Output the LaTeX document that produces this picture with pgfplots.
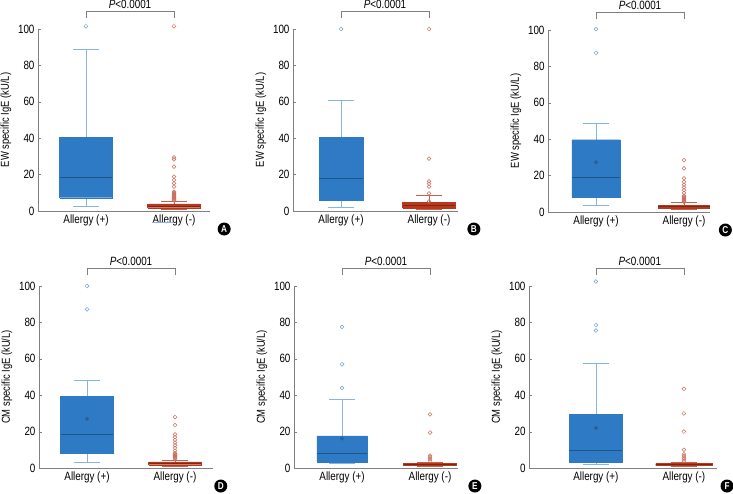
\documentclass[border=0pt]{standalone}
\usepackage{fontspec}
\setmainfont[FakeStretch=0.82]{Liberation Sans}
\usepackage{pgfplots}
\pgfplotsset{compat=1.18}

\definecolor{boxblue}{HTML}{2E7AC4}
\definecolor{medianblue}{HTML}{2A5E96}
\definecolor{whiskblue}{HTML}{86B5E0}
\definecolor{outblue}{HTML}{6A9FD4}
\definecolor{boxred}{HTML}{B7381C}
\definecolor{whiskred}{HTML}{C8614B}
\definecolor{outred}{HTML}{C9705E}
\definecolor{axisgrey}{HTML}{808080}

\pgfplotsset{
  panel/.style={
    x=88pt, y=1.82pt, ymin=0, ymax=100, anchor=south west,
    axis lines*=left,
    axis line style={-, draw=axisgrey, line width=0.6pt},
    xtick={1,2}, xticklabels={Allergy (+), Allergy (-)},
    ytick={0,20,40,60,80,100},
    tick align=inside, major tick length=3pt,
    x tick style={draw=none}, y tick style={draw=axisgrey},
    tick label style={font=\fontsize{12}{14}\selectfont},
    /pgf/number format/assume math mode=true,
    label style={font=\fontsize{11.5}{14}\selectfont},
    clip=false,
  },
  outpos/.style={only marks, mark=o, mark size=1.9pt, mark options={draw=outblue, line width=0.5pt}},
  outneg/.style={only marks, mark=o, mark size=1.9pt, mark options={draw=outred, line width=0.5pt}},
  meandot/.style={only marks, mark=*, mark size=1.8pt, color=medianblue},
}

% box: #1 position, #2 lower whisker, #3 Q1, #4 median, #5 Q3, #6 upper whisker,
% #7 half box width, #8 box colour, #9 whisker colour
\newcommand\drawbox[9]{%
  \pgfmathsetmacro\bxl{#1-#7}\pgfmathsetmacro\bxr{#1+#7}%
  \pgfmathsetmacro\wxl{#1-0.15}\pgfmathsetmacro\wxr{#1+0.15}%
  \addplot[#9, line width=0.6pt] coordinates {(#1,#2) (#1,#3)};
  \addplot[#9, line width=0.6pt] coordinates {(#1,#5) (#1,#6)};
  \addplot[#9, line width=0.6pt] coordinates {(\wxl,#2) (\wxr,#2)};
  \addplot[#9, line width=0.6pt] coordinates {(\wxl,#6) (\wxr,#6)};
  \addplot[fill=#8, draw=#8, line width=0.4pt] coordinates {(\bxl,#3) (\bxr,#3) (\bxr,#5) (\bxl,#5) (\bxl,#3)};
  \addplot[#8!70!black, line width=0.7pt] coordinates {(\bxl,#4) (\bxr,#4)};
}

\newcommand\pbracket{%
  \draw[axisgrey, line width=0.6pt] (axis cs:1,106) -- (axis cs:1,109.5) -- (axis cs:2,109.5) -- (axis cs:2,106);
  \node[anchor=base, font=\fontsize{12}{14}\selectfont] at (axis cs:1.5,111) {\textit{P}<0.0001};}
\newcommand\panellabel[2]{%
  \node[circle, fill=black, inner sep=0pt, minimum size=13pt, text=white,
        font=\bfseries\fontsize{10}{10}\selectfont] at (axis cs:#1,-9.9) {#2};}

\begin{document}
\begin{tikzpicture}
\useasboundingbox (0,0) rectangle (733pt,-494pt);

% A
\begin{axis}[panel, at={(38pt,-211pt)}, xmin=0.4545, xmax=2.41, ylabel={EW specific IgE (kU/L)}]
\drawbox{1}{2.75}{7.3}{18.5}{40.4}{88.6}{0.3}{boxblue}{whiskblue}
\addplot[outpos] coordinates {(1,101.5)};
\drawbox{2}{1.0}{1.8}{2.6}{3.9}{5.3}{0.3}{boxred}{whiskred}
\addplot[outneg] coordinates {(2,5.8)(2,6.2)(2,6.6)(2,7.0)(2,7.4)(2,7.8)(2,8.2)(2,8.6)(2,9.0)
  (2,9.4)(2,9.8)(2,10.2)(2,10.6)(2,13.4)(2,15.2)(2,17.0)(2,18.9)(2,24.4)(2,28.4)(2,29.5)(2,101.5)};
\addplot[whiskblue, line width=0.6pt] coordinates {(1.76,-6.4) (2.0,-6.4)};
\pbracket
\panellabel{2.57}{A}
\end{axis}

% B
\begin{axis}[panel, at={(293pt,-211pt)}, xmin=0.4545, xmax=2.33, ylabel={EW specific IgE (kU/L)}]
\drawbox{1}{2.0}{6.0}{18.0}{40.5}{61.0}{0.25}{boxblue}{whiskblue}
\addplot[outpos] coordinates {(1,100)};
\drawbox{2}{1.0}{1.6}{3.0}{4.6}{8.6}{0.3}{boxred}{whiskred}
\addplot[outneg] coordinates {(2,5.3)(2,9.7)(2,13.4)(2,15.0)(2,16.3)(2,28.8)(2,100)};
\pbracket
\panellabel{2.51}{B}
\end{axis}

% C
\begin{axis}[panel, at={(548pt,-212pt)}, xmin=0.4545, xmax=2.30, ylabel={EW specific IgE (kU/L)}]
\drawbox{1}{3.8}{8.2}{18.9}{39.7}{48.7}{0.275}{boxblue}{whiskblue}
\addplot[outpos] coordinates {(1,87.5)(1,100.5)};
\addplot[meandot] coordinates {(1,27.3)};
\drawbox{2}{1.5}{2.2}{3.0}{3.7}{5.1}{0.29}{boxred}{whiskred}
\addplot[outneg] coordinates {(2,5.6)(2,6.0)(2,6.4)(2,6.8)(2,7.2)(2,7.6)(2,8.0)(2,8.5)(2,9.0)
  (2,10.5)(2,12.0)(2,13.5)(2,15.0)(2,16.5)(2,18.5)(2,24.0)(2,28.5)};
\pbracket
\panellabel{2.47}{C}
\end{axis}

% D
\begin{axis}[panel, at={(39pt,-468pt)}, xmin=0.4545, xmax=2.43, ylabel={CM specific IgE (kU/L)}]
\drawbox{1}{3.3}{7.9}{18.5}{39.4}{48.3}{0.3}{boxblue}{whiskblue}
\addplot[outpos] coordinates {(1,87.2)(1,100)};
\addplot[meandot] coordinates {(1,27.0)};
\drawbox{2}{1.0}{1.8}{2.5}{3.3}{4.4}{0.3}{boxred}{whiskred}
\addplot[outneg] coordinates {(2,5.0)(2,5.4)(2,5.8)(2,6.2)(2,6.6)(2,7.0)(2,7.4)(2,7.8)(2,8.2)
  (2,9.5)(2,11.0)(2,12.5)(2,14.0)(2,15.5)(2,17.0)(2,18.5)(2,23.5)(2,28.0)};
\pbracket
\panellabel{2.52}{D}
\end{axis}

% E
\begin{axis}[panel, at={(294pt,-468pt)}, xmin=0.4545, xmax=2.32, ylabel={CM specific IgE (kU/L)}]
\drawbox{1}{2.4}{3.3}{8.3}{17.7}{37.6}{0.285}{boxblue}{whiskblue}
\addplot[outpos] coordinates {(1,44)(1,57)(1,77.5)};
\addplot[meandot] coordinates {(1,16.2)};
\drawbox{2}{1.0}{1.3}{1.8}{2.4}{3.3}{0.3}{boxred}{whiskred}
\addplot[outneg] coordinates {(2,4.0)(2,5.0)(2,6.0)(2,6.8)(2,19.5)(2,29.5)};
\pbracket
\panellabel{2.51}{E}
\end{axis}

% F
\begin{axis}[panel, at={(529pt,-468pt)}, xmin=0.24, xmax=2.375, ylabel={CM specific IgE (kU/L)}]
\drawbox{1}{2.0}{3.3}{9.7}{29.4}{57.5}{0.3}{boxblue}{whiskblue}
\addplot[outpos] coordinates {(1,75.5)(1,78.5)(1,102.5)};
\addplot[meandot] coordinates {(1,22.0)};
\drawbox{2}{1.0}{1.3}{1.9}{2.4}{3.3}{0.32}{boxred}{whiskred}
\addplot[outneg] coordinates {(2,3.9)(2,4.8)(2,5.7)(2,6.6)(2,7.5)(2,10.0)(2,20.0)(2,30.0)(2,43.5)};
\pbracket
\panellabel{2.49}{F}
\end{axis}
\end{tikzpicture}
\end{document}
